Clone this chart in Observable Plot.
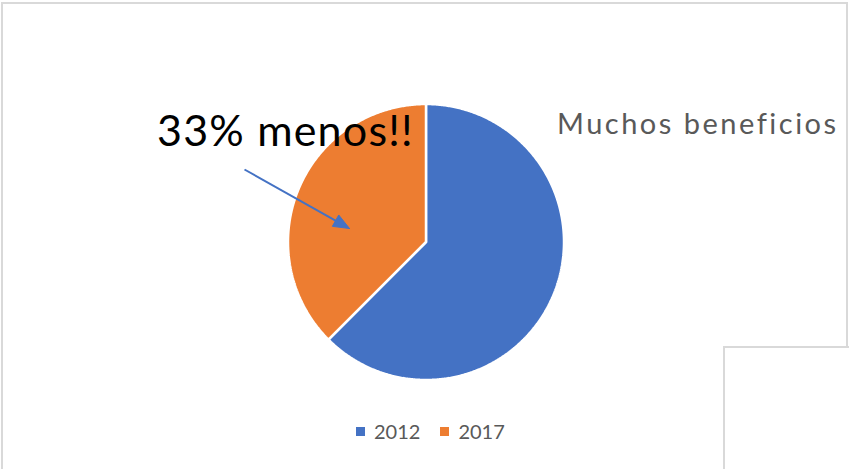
<!DOCTYPE html>
<html>
<head>
<meta charset="utf-8">
<script src="https://cdn.jsdelivr.net/npm/d3@7"></script>
<script src="https://cdn.jsdelivr.net/npm/@observablehq/plot@0.6"></script>
<style>
  html, body { margin: 0; padding: 0; background: #fff; }
  #wrap { position: relative; width: 849px; height: 469px; overflow: hidden; background: #fff; font-family: Lato, "Noto Sans", sans-serif; font-variant-ligatures: none; }
  #frame { position: absolute; left: 1px; top: 2px; width: 843px; height: 500px; border: 2px solid #d9d9d9; }
  #cover { position: absolute; left: 723px; top: 346px; width: 200px; height: 200px; background: #fff; border: 2px solid #d9d9d9; }
  #chart { position: absolute; left: 0; top: 0; }
  .lbl { position: absolute; white-space: nowrap; line-height: 1; }
  #title { left: 557px; top: 108px; font-size: 29px; letter-spacing: 2.5px; color: #595959; }
  #note { left: 157px; top: 108px; font-size: 43px; letter-spacing: 1.2px; color: #000; }
  #legend { position: absolute; left: 356px; top: 421px; display: flex; align-items: center; font-size: 20px; color: #595959; line-height: 1; }
  #legend .item { display: flex; align-items: center; margin-right: 20px; }
  #legend .sw { width: 9px; height: 9px; margin-right: 9px; }
</style>
</head>
<body>
<div id="wrap">
  <div id="frame"></div>
  <div id="chart"></div>
  <div class="lbl" id="title"></div>
  <div class="lbl" id="note"></div>
  <div id="legend"></div>
  <div id="cover"></div>
</div>
<script>
// ---- data ----
const categories = ["2012", "2017"];
const values = [100, 60];
const colors = ["#4472C4", "#ED7D31"];
const titleText = "Muchos beneficios";
const noteText = "33% menos!!";
// annotation arrow (pixel space): from, to
const arrowFrom = [244, 169];
const arrowTo = [349, 228];

// ---- layout ----
const W = 849, H = 469;
const cx = 425.5, cy = 241.5, R = 138;

const arcs = d3.pie().sort(null).value(d => d)(values);
const slicePts = arcs.flatMap((a, i) => {
  const n = Math.ceil((a.endAngle - a.startAngle) / (Math.PI / 360));
  const p = [{x: cx, y: cy, k: categories[i]}];
  for (let j = 0; j <= n; j++) {
    const t = a.startAngle + (a.endAngle - a.startAngle) * j / n;
    p.push({x: cx + R * Math.sin(t), y: cy - R * Math.cos(t), k: categories[i]});
  }
  p.push({x: cx, y: cy, k: categories[i]});
  return p;
});

// arrow head polygon
const dx = arrowTo[0] - arrowFrom[0], dy = arrowTo[1] - arrowFrom[1];
const len = Math.hypot(dx, dy), ux = dx / len, uy = dy / len;
const headL = 16, headW = 6.5;
const base = [arrowTo[0] - ux * headL, arrowTo[1] - uy * headL];
const headPts = [
  {x: arrowTo[0], y: arrowTo[1]},
  {x: base[0] - uy * headW, y: base[1] + ux * headW},
  {x: base[0] + uy * headW, y: base[1] - ux * headW},
  {x: arrowTo[0], y: arrowTo[1]}
];
const shaft = [{x1: arrowFrom[0], y1: arrowFrom[1], x2: base[0] + ux * 2, y2: base[1] + uy * 2}];

const chart = Plot.plot({
  width: W, height: H, margin: 0,
  x: {domain: [0, W], range: [0, W], axis: null},
  y: {domain: [0, H], range: [0, H], axis: null},
  color: {domain: categories, range: colors},
  style: {background: "transparent", overflow: "visible"},
  marks: [
    Plot.line(slicePts, {x: "x", y: "y", z: "k", fill: "k", stroke: "white", strokeWidth: 2.5, strokeLinejoin: "miter"}),
    Plot.link(shaft, {x1: "x1", y1: "y1", x2: "x2", y2: "y2", stroke: "#4472C4", strokeWidth: 2}),
    Plot.line(headPts, {x: "x", y: "y", fill: "#4472C4", stroke: "#4472C4", strokeWidth: 1})
  ]
});
document.getElementById("chart").appendChild(chart);

document.getElementById("title").textContent = titleText;
document.getElementById("note").textContent = noteText;
const legend = document.getElementById("legend");
categories.forEach((c, i) => {
  const it = document.createElement("div");
  it.className = "item";
  const sw = document.createElement("div");
  sw.className = "sw";
  sw.style.background = colors[i];
  const tx = document.createElement("span");
  tx.textContent = c;
  it.appendChild(sw); it.appendChild(tx);
  legend.appendChild(it);
});
</script>
</body>
</html>
